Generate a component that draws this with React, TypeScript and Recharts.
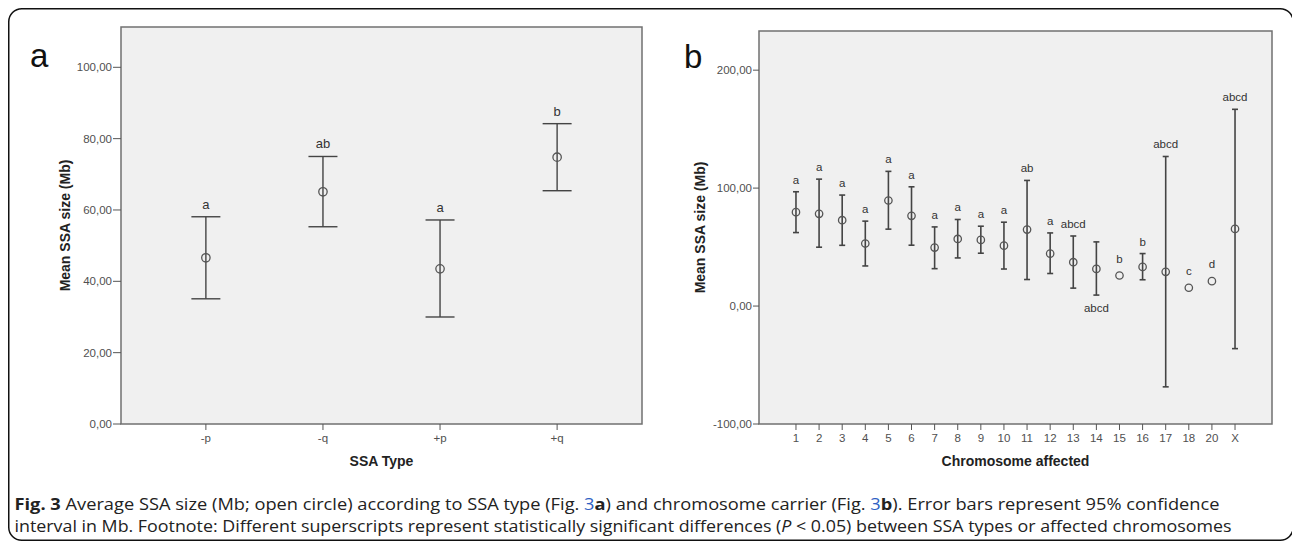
import React from 'react';
import { ScatterChart, Scatter, XAxis, YAxis, ErrorBar, ReferenceArea } from 'recharts';

// panel a: SSA type
const typeCats = ['-p', '-q', '+p', '+q'];
const typeMean = [46.6, 65.1, 43.5, 74.8];
const typeLower = [35.1, 55.3, 30.0, 65.4];
const typeUpper = [58.1, 75.0, 57.2, 84.2];
const typeLetters = ['a', 'ab', 'a', 'b'];
const typeTicks = [0, 20, 40, 60, 80, 100];

// panel b: chromosome affected
const chromCats = ['1', '2', '3', '4', '5', '6', '7', '8', '9', '10', '11', '12', '13', '14', '15', '16', '17', '18', '20', 'X'];
const chromMean = [79.6, 78.2, 72.8, 53.0, 89.5, 76.5, 49.6, 56.9, 56.1, 51.2, 64.8, 44.5, 37.2, 31.5, 25.9, 33.2, 29.0, 15.5, 21.1, 65.4];
const chromLower: (number | null)[] = [62.3, 49.9, 51.5, 34.0, 65.2, 51.6, 31.7, 40.8, 44.8, 31.4, 22.5, 27.6, 15.2, 9.3, null, 22.3, -68.5, null, null, -36.1];
const chromUpper: (number | null)[] = [96.9, 107.6, 94.1, 72.0, 114.2, 101.1, 67.1, 73.4, 67.7, 71.1, 106.5, 62.0, 59.4, 54.4, null, 44.5, 126.8, null, null, 166.8];
const chromLetters = ['a', 'a', 'a', 'a', 'a', 'a', 'a', 'a', 'a', 'a', 'ab', 'a', 'abcd', 'abcd', 'b', 'b', 'abcd', 'c', 'd', 'abcd'];
const chromLettersBelow = ['14'];
const chromTicks = [-100, 0, 100, 200];

const FONT = "'Liberation Sans', Arial, sans-serif";
const NARROW = "'Liberation Sans Narrow', 'Liberation Sans', Arial, sans-serif";

const fmt = (v: number) => v.toFixed(2).replace('.', ',');

function buildRows(cats: string[], mean: number[], lower: (number | null)[], upper: (number | null)[], letters: string[], below: string[] = []) {
    return cats.map((c, i) => {
        const lo = lower[i];
        const hi = upper[i];
        const bar = lo != null && hi != null;
        const isBelow = below.includes(c);
        return {
            x: i,
            y: mean[i],
            err: bar ? [mean[i] - (lo as number), (hi as number) - mean[i]] : null,
            letter: letters[i],
            below: isBelow,
            bar,
            anchor: !bar ? mean[i] : isBelow ? (lo as number) : (hi as number),
        };
    });
}

interface PanelProps {
    cats: string[];
    rows: ReturnType<typeof buildRows>;
    width: number;
    height: number;
    top: number;
    right: number;
    yWidth: number;
    xHeight: number;
    xDomain: [number, number];
    yDomain: [number, number];
    yTicks: number[];
    yTitleX: number;
    xTitle: string;
    capWidth: number;
    barWidth: number;
    ringR: number;
    letterSize: number;
    tickSize: number;
}

function Panel(p: PanelProps) {
    const labelRows = p.rows.map((r) => ({ ...r, y: r.anchor }));

    const ring = (props: any) => (
        <circle cx={props.cx} cy={props.cy} r={p.ringR} fill="none" stroke="#555" strokeWidth={1.3} />
    );

    const letter = (props: any) => {
        const d = props.payload;
        const dy = d.below ? 16.5 : d.bar ? -8 : -13;
        return (
            <text x={props.cx} y={props.cy + dy} textAnchor="middle" fontSize={p.letterSize} fontFamily={NARROW} fill="#333">
                {d.letter}
            </text>
        );
    };

    const yTitle = (props: any) => {
        const vb = props.viewBox || {};
        const cx = (vb.x || 0) + p.yTitleX;
        const cy = (vb.y || 0) + (vb.height || 0) / 2;
        return (
            <text x={cx} y={cy} transform={`rotate(-90 ${cx} ${cy})`} textAnchor="middle" dominantBaseline="central"
                fontFamily={FONT} fontWeight="bold" fontSize={14} fill="#222">
                Mean SSA size (Mb)
            </text>
        );
    };

    const xTitle = (props: any) => {
        const vb = props.viewBox || {};
        return (
            <text x={(vb.x || 0) + (vb.width || 0) / 2} y={(vb.y || 0) + 42} textAnchor="middle"
                fontFamily={FONT} fontWeight="bold" fontSize={14} fill="#222">
                {p.xTitle}
            </text>
        );
    };

    return (
        <ScatterChart width={p.width} height={p.height} margin={{ top: p.top, right: p.right, bottom: 0, left: 0 }}>
            <ReferenceArea x1={p.xDomain[0]} x2={p.xDomain[1]} y1={p.yDomain[0]} y2={p.yDomain[1]}
                fill="#f0f0f0" fillOpacity={1} stroke="#707070" strokeWidth={1.5} ifOverflow="visible" />
            <XAxis type="number" dataKey="x" domain={p.xDomain} ticks={p.cats.map((_, i) => i)} interval={0}
                allowDataOverflow tickFormatter={(i: number) => p.cats[i] ?? ''} height={p.xHeight}
                axisLine={false} tickLine={{ stroke: '#555' }} tickSize={6} tickMargin={4}
                tick={{ fill: '#505050', fontSize: 11.5, fontFamily: NARROW }} label={{ content: xTitle }} />
            <YAxis type="number" dataKey="y" domain={p.yDomain} ticks={p.yTicks} interval={0} allowDataOverflow
                tickFormatter={fmt} width={p.yWidth} axisLine={false} tickLine={{ stroke: '#555' }}
                tickSize={p.tickSize} tickMargin={1}
                tick={{ fill: '#505050', fontSize: 11.5, fontFamily: NARROW }} label={{ content: yTitle }} />
            <Scatter data={p.rows} shape={ring} isAnimationActive={false}>
                <ErrorBar dataKey="err" direction="y" width={p.capWidth} stroke="#444" strokeWidth={p.barWidth} />
            </Scatter>
            <Scatter data={labelRows} shape={letter} isAnimationActive={false} />
        </ScatterChart>
    );
}

export default function App() {
    const typeRows = buildRows(typeCats, typeMean, typeLower, typeUpper, typeLetters);
    const chromRows = buildRows(chromCats, chromMean, chromLower, chromUpper, chromLetters, chromLettersBelow);

    return (
        <div style={{ position: 'absolute', left: 0, top: 0, width: 1292, height: 542, background: '#fff', overflow: 'hidden' }}>
            <svg width={1292} height={542} style={{ position: 'absolute', left: 0, top: 0 }}>
                <rect x={8.75} y={8.75} width={1284.5} height={531.5} rx={13} fill="#fff" stroke="#111" strokeWidth={1.5} />
                <text x={30} y={67} fontFamily={FONT} fontSize={33} fill="#111">a</text>
                <text x={684} y={68} fontFamily={FONT} fontSize={33} fill="#111">b</text>
                <text x={14.5} y={510} fontFamily="'Open Sans', 'Noto Sans', sans-serif" fontSize={16.5} fill="#222"
                    textLength={1205} lengthAdjust="spacingAndGlyphs">
                    <tspan fontWeight="bold">Fig. 3</tspan>
                    {' Average SSA size (Mb; open circle) according to SSA type (Fig. '}
                    <tspan fill="#2f5fc4">3</tspan>
                    <tspan fontWeight="bold">a</tspan>
                    {') and chromosome carrier (Fig. '}
                    <tspan fill="#2f5fc4">3</tspan>
                    <tspan fontWeight="bold">b</tspan>
                    {'). Error bars represent 95% confidence'}
                </text>
                <text x={14.5} y={532} fontFamily="'Open Sans', 'Noto Sans', sans-serif" fontSize={16.5} fill="#222"
                    textLength={1217} lengthAdjust="spacingAndGlyphs">
                    {'interval in Mb. Footnote: Different superscripts represent statistically significant differences ('}
                    <tspan fontStyle="italic">P</tspan>
                    {' < 0.05) between SSA types or affected chromosomes'}
                </text>
            </svg>
            <div style={{ position: 'absolute', left: 0, top: 0 }}>
                <Panel cats={typeCats} rows={typeRows} width={660} height={480} top={27} right={18}
                    yWidth={121} xHeight={56} xDomain={[-0.725, 3.725]} yDomain={[0, 111.3]} yTicks={typeTicks}
                    yTitleX={65} xTitle="SSA Type" capWidth={14.5} barWidth={1.4} ringR={4.2} letterSize={13}
                    tickSize={8} />
            </div>
            <div style={{ position: 'absolute', left: 660, top: 0 }}>
                <Panel cats={chromCats} rows={chromRows} width={632} height={480} top={31} right={20}
                    yWidth={99} xHeight={56} xDomain={[-1.6, 20.6]} yDomain={[-100, 233.2]} yTicks={chromTicks}
                    yTitleX={40} xTitle="Chromosome affected" capWidth={3} barWidth={1.6} ringR={3.7} letterSize={11.5}
                    tickSize={6} />
            </div>
        </div>
    );
}
